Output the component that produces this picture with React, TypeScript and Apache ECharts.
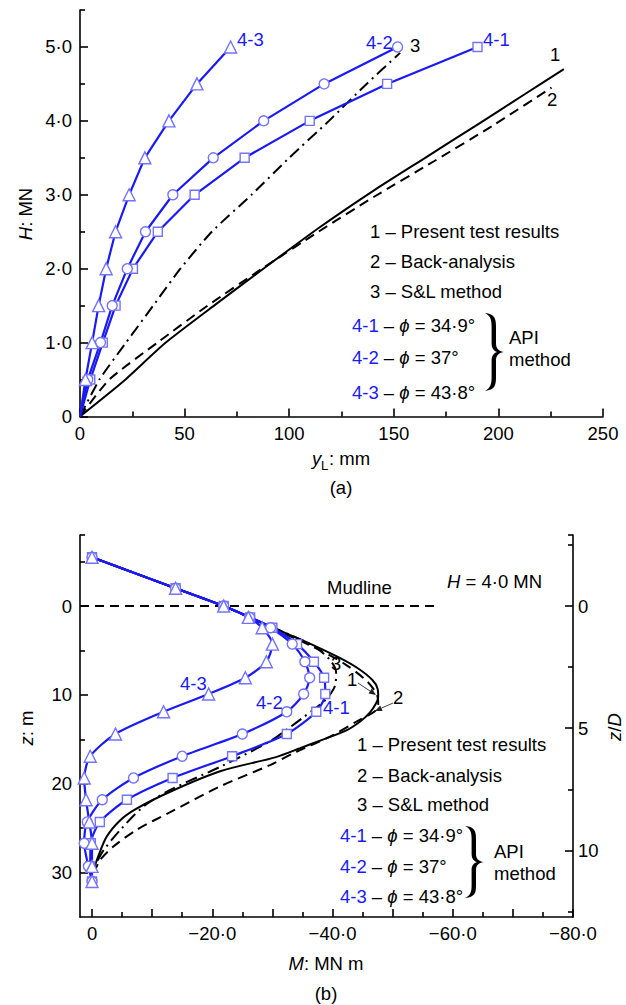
import React, { useEffect, useRef } from "react";
import * as echarts from "echarts";

// ---------------- (a) lateral load H vs displacement y_L ----------------
const A_LOAD = [0, 0.5, 1.0, 1.5, 2.0, 2.5, 3.0, 3.5, 4.0, 4.5, 5.0];
const A_API41 = [0, 4.9, 10.9, 17.0, 25.3, 37.2, 54.8, 78.7, 109.8, 146.8, 190.0];
const A_API42 = [0, 3.7, 9.8, 15.4, 22.6, 31.3, 44.4, 63.7, 87.8, 116.7, 151.8];
const A_API43 = [0, 2.6, 5.8, 8.9, 12.5, 17.0, 23.5, 31.0, 42.5, 55.9, 72.0];

const A_TEST_Y = [0, 20.5, 41, 65, 88.6, 114.6, 140, 165, 190, 212, 231.3];
const A_TEST_H = [0, 0.47, 1.0, 1.52, 2.02, 2.56, 3.05, 3.5, 3.95, 4.35, 4.7];
const A_BACK_Y = [0, 14, 37, 61, 87, 114, 141, 169, 197, 225.4];
const A_BACK_H = [0, 0.5, 1.0, 1.5, 2.0, 2.5, 2.98, 3.45, 3.93, 4.45];
const A_SL_Y = [0, 9.3, 22, 35, 48, 63, 82, 100, 119, 137, 153];
const A_SL_H = [0, 0.5, 1.0, 1.5, 2.0, 2.5, 3.0, 3.5, 4.0, 4.5, 4.92];

const A_X_TICKS = [0, 50, 100, 150, 200, 250];
const A_X_MINOR = [25, 75, 125, 175, 225];
const A_Y_TICKS = [0, 1, 2, 3, 4, 5];
const A_Y_MINOR = [0.5, 1.5, 2.5, 3.5, 4.5, 5.5];

// ---------------- (b) bending moment M vs depth z ----------------
const B_NODE_Z = [-5.5, -2.0, 0, 1.27, 2.44, 4.28, 6.27, 8.07, 9.9, 11.9, 14.4, 16.9, 19.35, 21.8, 24.3, 26.7, 29.3, 31.0];
const B_API41 = [0, -13.9, -21.9, -26.3, -30.0, -34.1, -36.9, -38.6, -38.8, -37.3, -32.4, -23.3, -13.4, -5.8, -1.3, 0.2, 0.3, 0];
const B_API42 = [0, -13.9, -21.9, -26.2, -29.7, -33.3, -35.4, -36.2, -35.2, -32.4, -25.0, -15.0, -6.9, -1.7, 0.8, 1.3, 0.6, 0];
const B_API43 = [0, -13.9, -21.9, -26.0, -28.3, -30.0, -29.0, -25.5, -19.4, -11.9, -3.9, 0.3, 1.3, 1.0, 0.45, 0, 0, 0];

const B_TEST_Z = [-5.5, -2.0, 0, 1.3, 2.5, 4.0, 5.7, 7.0, 8.3, 9.3, 10.2, 11.0, 12.0, 13.0, 14.0, 15.0, 16.0, 17.0, 18.6, 20.9, 22.8, 24.1, 26.0, 28.6, 29.5];
const B_TEST_M = [0, -13.9, -21.9, -26.4, -30.3, -35.5, -40.8, -44.2, -46.6, -47.5, -47.6, -47.2, -46.2, -44.6, -42.3, -38.5, -34.6, -30.6, -21.3, -13.0, -7.4, -4.7, -2.4, -0.8, -0.4];
const B_BACK_Z = [-5.5, -2.0, 0, 1.3, 2.5, 4.5, 6.5, 8.5, 10.0, 11.0, 11.8, 12.8, 14.7, 16.4, 17.9, 20.3, 23.2, 25.2, 27.1, 28.6, 29.3, 29.8];
const B_BACK_M = [0, -13.9, -21.9, -26.2, -30.0, -36.5, -42.0, -45.8, -47.4, -47.6, -47.1, -44.5, -39.6, -34.0, -29.6, -21.3, -13.0, -7.4, -3.5, -1.3, -0.8, -0.4];
const B_SL_Z = [-5.5, -2.0, 0, 1.3, 2.5, 4.4, 6.0, 7.5, 9.0, 10.3, 11.1, 12.5, 13.9, 15.3, 18.1, 20.7, 22.6, 25.2, 27.5, 28.8, 29.5];
const B_SL_M = [0, -13.9, -21.9, -26.3, -30.4, -36.6, -39.5, -40.6, -40.4, -39.2, -37.9, -35.2, -32.4, -29.4, -21.3, -13.0, -8.5, -4.7, -1.9, -0.8, -0.3];

const MUDLINE_M = [2, -57.2];
const MUDLINE_Z = [0, 0];

const B_X_TICKS = [-80, -70, -60, -50, -40, -30, -20, -10, 0];
const B_X_LABELS = [-80, -60, -40, -20, 0];
const B_X_MINOR = [-75, -65, -55, -45, -35, -25, -15, -5];
const B_Z_TICKS = [0, 10, 20, 30];
const B_Z_MINOR = [-8, -5, 5, 15, 25];
const PILE_D = 2.75;
const B_ZD_TICKS = [0, 5, 10];
const B_ZD_MINOR = [-2.5, 2.5, 7.5, 12.5];

const FONT = '"Liberation Sans", Arial, Helvetica, sans-serif';
const BLUE = "#1a1af5";
const MARK = "#7373ff";
const FS = 18.5;

const pairs = (xs: number[], ys: number[]) => xs.map((x, i) => [x, ys[i]]);

const BRACE =
  "M0,0 C9,1 10,6 10,14 L10,31 C10,36 12,39 17,40 C12,41 10,44 10,49 L10,66 C10,74 9,79 0,80 C5,77 6,73 6,66 L6,49 C6,44 8,41 11,40 C8,39 6,36 6,31 L6,14 C6,7 5,3 0,0 Z";
let braceRegistered = false;

export default function App() {
  const ref = useRef<HTMLDivElement>(null);

  useEffect(() => {
    if (!ref.current) return;
    if (!braceRegistered) {
      echarts.graphic.registerShape("brace", (echarts.graphic as any).extendPath(BRACE, {}));
      braceRegistered = true;
    }
    const chart = echarts.init(ref.current, undefined, { renderer: "svg" });

    const lineCol = { color: "#000", width: 1.6 };
    const tickStyle = { color: "#000", width: 1.6 };
    const lbl = { color: "#000", fontSize: FS, fontFamily: FONT };

    const mkAxis = (o: any) => ({
      type: "value",
      splitLine: { show: false },
      axisLine: { show: true, onZero: false, lineStyle: lineCol },
      ...o,
    });
    const minorAxis = (o: any, values: number[]) =>
      mkAxis({
        ...o,
        axisLine: { show: false, onZero: false },
        axisLabel: { show: false },
        axisTick: { show: true, inside: true, length: 5, customValues: values, lineStyle: tickStyle },
      });

    const fmtDot = (v: number) => (v === 0 ? "0" : v.toFixed(1).replace(".", "·"));
    const fmtNeg = (v: number) => (v === 0 ? "0" : "−" + Math.abs(v).toFixed(1).replace(".", "·"));

    const blue = (name: string, x: number, y: number, data: number[][], symbol: string, size: number, smooth: number) => ({
      name,
      type: "line",
      xAxisIndex: x,
      yAxisIndex: y,
      data: data.map((p, i) => (i === 0 && x === 0 ? { value: p, symbol: "none" } : p)),
      symbol,
      symbolSize: size,
      smooth,
      lineStyle: { color: BLUE, width: 2.2 },
      itemStyle: { color: "#fff", borderColor: MARK, borderWidth: 1.4 },
      z: 4,
      silent: true,
    });
    const black = (name: string, x: number, y: number, data: number[][], type: any, smooth: number) => ({
      name,
      type: "line",
      xAxisIndex: x,
      yAxisIndex: y,
      data,
      symbol: "none",
      smooth,
      lineStyle: { color: "#000", width: 2, type },
      z: 3,
      silent: true,
    });

    const DASH = [10, 6];
    const DASHDOT = [12, 5, 2, 5];

    const txt = (x: number, y: number, text: string, o: any = {}) => ({
      type: "text",
      x,
      y,
      z: 100,
      silent: true,
      style: {
        text,
        fill: "#000",
        fontSize: FS,
        fontFamily: FONT,
        align: "left",
        textAlign: "left",
        verticalAlign: "middle",
        textVerticalAlign: "middle",
        ...o,
      },
    });
    const rich = {
      b: { fill: BLUE, fontSize: FS, fontFamily: FONT },
      i: { fontStyle: "italic", fontSize: FS, fontFamily: FONT, fill: "#000" },
      n: { fontSize: FS, fontFamily: FONT, fill: "#000" },
    };
    const rtxt = (x: number, y: number, text: string, o: any = {}) => txt(x, y, text, { rich, ...o });
    const vtxt = (x: number, y: number, text: string) => ({
      type: "text", x, y, rotation: Math.PI / 2, z: 100, silent: true,
      style: { text, rich, fill: "#000", fontSize: FS, fontFamily: FONT, align: "center", textAlign: "center", verticalAlign: "middle", textVerticalAlign: "middle" },
    });
    const arrow = (x1: number, y1: number, x2: number, y2: number) => {
      const dx = x2 - x1, dy = y2 - y1;
      const L = Math.hypot(dx, dy);
      const ux = dx / L, uy = dy / L;
      const hl = 7, hw = 3;
      const bx = x2 - ux * hl, by = y2 - uy * hl;
      return [
        { type: "line", z: 100, silent: true, shape: { x1, y1, x2: bx, y2: by }, style: { stroke: "#444", lineWidth: 1 } },
        {
          type: "polygon",
          z: 100,
          silent: true,
          shape: { points: [[x2, y2], [bx - uy * hw, by + ux * hw], [bx + uy * hw, by - ux * hw]] },
          style: { fill: "#222" },
        },
      ];
    };
    const legend = (x4: number, x1: number, ys: number[], bx: number, by: number, bh: number, apiX: number, apiY: number) => [
      txt(x1, ys[0], "1 – Present test results"),
      txt(x1, ys[1], "2 – Back-analysis"),
      txt(x1, ys[2], "3 – S&L method"),
      rtxt(x4, ys[3], "{b|4-1}{n| – }{i|ϕ}{n| = 34·9°}"),
      rtxt(x4, ys[4], "{b|4-2}{n| – }{i|ϕ}{n| = 37°}"),
      rtxt(x4, ys[5], "{b|4-3}{n| – }{i|ϕ}{n| = 43·8°}"),
      { type: "brace", x: bx, y: by, scaleX: 1.1, scaleY: bh / 80, z: 100, silent: true, style: { fill: "#000" } },
      txt(apiX, apiY, "API"),
      txt(apiX, apiY + 22, "method"),
    ];

    const option: any = {
      animation: false,
      textStyle: { fontFamily: FONT },
      grid: [
        { left: 80, top: 10, width: 523, height: 406.5 },
        { left: 80, top: 535, width: 493, height: 382 },
      ],
      xAxis: [
        mkAxis({
          gridIndex: 0, min: 0, max: 250, position: "bottom",
          axisTick: { show: true, inside: true, length: 8, customValues: A_X_TICKS, lineStyle: tickStyle },
          axisLabel: { ...lbl, margin: 7, customValues: A_X_TICKS },
        }),
        minorAxis({ gridIndex: 0, min: 0, max: 250, position: "bottom" }, A_X_MINOR),
        mkAxis({
          gridIndex: 1, min: -80, max: 2, inverse: true, position: "bottom",
          axisTick: { show: true, inside: true, length: 8, customValues: B_X_TICKS, lineStyle: tickStyle },
          axisLabel: { ...lbl, margin: 7, customValues: B_X_LABELS, formatter: fmtNeg },
        }),
        minorAxis({ gridIndex: 1, min: -80, max: 2, inverse: true, position: "bottom" }, B_X_MINOR),
      ],
      yAxis: [
        mkAxis({
          gridIndex: 0, min: 0, max: 5.5, position: "left",
          axisTick: { show: true, inside: true, length: 8, customValues: A_Y_TICKS, lineStyle: tickStyle },
          axisLabel: { ...lbl, margin: 8, customValues: A_Y_TICKS, formatter: fmtDot },
        }),
        minorAxis({ gridIndex: 0, min: 0, max: 5.5, position: "left" }, A_Y_MINOR),
        mkAxis({
          gridIndex: 1, min: -8, max: 35, inverse: true, position: "left",
          axisTick: { show: true, inside: true, length: 8, customValues: B_Z_TICKS, lineStyle: tickStyle },
          axisLabel: { ...lbl, margin: 8, customValues: B_Z_TICKS },
        }),
        minorAxis({ gridIndex: 1, min: -8, max: 35, inverse: true, position: "left" }, B_Z_MINOR),
        mkAxis({
          gridIndex: 1, min: -8 / PILE_D, max: 35 / PILE_D, inverse: true, position: "right",
          axisTick: { show: true, inside: true, length: 8, customValues: B_ZD_TICKS, lineStyle: tickStyle },
          axisLabel: { ...lbl, margin: 5, customValues: B_ZD_TICKS },
        }),
        minorAxis({ gridIndex: 1, min: -8 / PILE_D, max: 35 / PILE_D, inverse: true, position: "right" }, [-8 / PILE_D, ...B_ZD_MINOR]),
      ],
      series: [
        black("1 – Present test results (a)", 0, 0, pairs(A_TEST_Y, A_TEST_H), "solid", 0.2),
        black("2 – Back-analysis (a)", 0, 0, pairs(A_BACK_Y, A_BACK_H), DASH, 0.2),
        black("3 – S&L method (a)", 0, 0, pairs(A_SL_Y, A_SL_H), DASHDOT, 0.2),
        blue("4-1 (a)", 0, 0, pairs(A_API41, A_LOAD), "rect", 9, 0),
        blue("4-2 (a)", 0, 0, pairs(A_API42, A_LOAD), "circle", 10, 0),
        blue("4-3 (a)", 0, 0, pairs(A_API43, A_LOAD), "triangle", 12, 0),

        black("Mudline", 2, 2, pairs(MUDLINE_M, MUDLINE_Z), [9, 6], 0),
        black("1 – Present test results (b)", 2, 2, pairs(B_TEST_M, B_TEST_Z), "solid", 0.3),
        black("2 – Back-analysis (b)", 2, 2, pairs(B_BACK_M, B_BACK_Z), DASH, 0.3),
        black("3 – S&L method (b)", 2, 2, pairs(B_SL_M, B_SL_Z), DASHDOT, 0.3),
        blue("4-1 (b)", 2, 2, pairs(B_API41, B_NODE_Z), "rect", 9, 0.25),
        blue("4-2 (b)", 2, 2, pairs(B_API42, B_NODE_Z), "circle", 10, 0.25),
        blue("4-3 (b)", 2, 2, pairs(B_API43, B_NODE_Z), "triangle", 12, 0.25),
      ],
      graphic: [
        // ----- (a) annotations -----
        vtxt(25, 214, "{i|H}{n|: MN}"),
        txt(312, 458, "y", { fontStyle: "italic" }),
        txt(321, 465, "L", { fontSize: 13 }),
        txt(329, 458, ": mm"),
        txt(341, 487, "(a)", { align: "center", textAlign: "center" }),
        txt(237, 39, "4-3", { fill: BLUE }),
        txt(366, 42, "4-2", { fill: BLUE }),
        txt(410, 45, "3"),
        txt(483, 39, "4-1", { fill: BLUE }),
        txt(550, 54, "1"),
        txt(547, 99, "2"),
        ...legend(352, 370, [231, 261, 291, 325, 357, 392], 485, 313, 78, 509, 337),

        // ----- (b) annotations -----
        txt(327, 587, "Mudline"),
        rtxt(447, 581, "{i|H}{n| = 4·0 MN}"),
        txt(180, 683, "4-3", { fill: BLUE }),
        txt(256, 702, "4-2", { fill: BLUE }),
        txt(323, 707, "4-1", { fill: BLUE }),
        txt(331, 663, "3"),
        txt(347, 679, "1"),
        ...arrow(358, 683, 376, 695),
        txt(393, 697, "2"),
        ...arrow(393, 703, 375, 711),
        ...legend(340, 357, [744, 775, 804, 835, 866, 896], 465, 826, 72, 494, 851),
        rtxt(326, 963, "{i|M}{n|: MN m}", { align: "center", textAlign: "center" }),
        txt(326, 993, "(b)", { align: "center", textAlign: "center" }),
        vtxt(26, 728, "{i|z}{n|: m}"),
        vtxt(614, 727, "{i|z}{n|/}{i|D}"),
      ],
    };

    chart.setOption(option);
    return () => chart.dispose();
  }, []);

  return <div ref={ref} style={{ position: "absolute", left: 0, top: 0, width: 626, height: 1005, background: "#fff" }} />;
}
